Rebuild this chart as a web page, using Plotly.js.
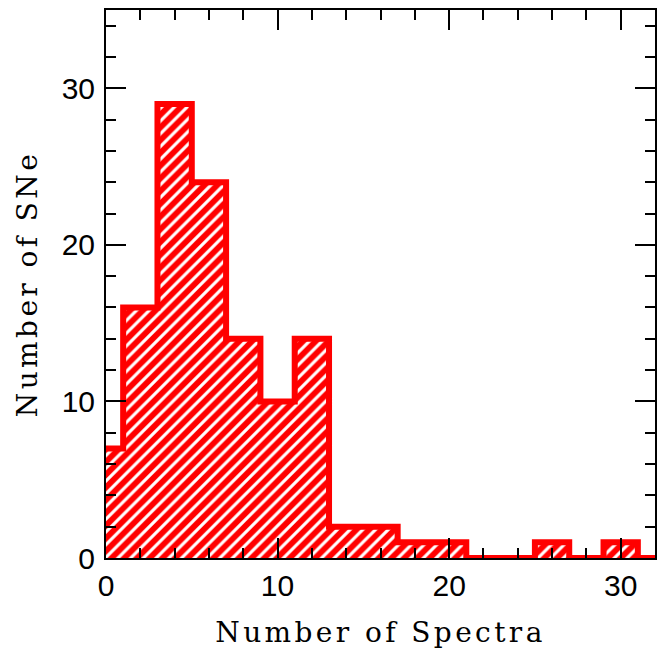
<!DOCTYPE html>
<html>
<head>
<meta charset="utf-8">
<script src="https://cdn.plot.ly/plotly-3.0.1.min.js"></script>
<style>
html,body{margin:0;padding:0;background:#fff;}
#chart{width:663px;height:651px;}
.g-xtitle text, .g-ytitle text{letter-spacing:3.4px;}
</style>
</head>
<body>
<div id="chart"></div>
<script>
// Histogram: bin centers (width 2) and counts
var binCenters = [0, 2, 4, 6, 8, 10, 12, 14, 16, 18, 20, 22, 24, 26, 28, 30, 32];
var counts     = [7, 16, 29, 24, 14, 10, 14, 2, 2, 1, 1, 0, 0, 1, 0, 1, 0];
var binWidth = 2;
var xTickVals = [0, 10, 20, 30];
var yTickVals = [0, 10, 20, 30];

// Step outline built from bin edges
var edgesX = binCenters.map(function(c){ return c - binWidth/2; });
edgesX.push(binCenters[binCenters.length-1] + binWidth/2);
var edgesY = counts.slice();
edgesY.push(counts[counts.length-1]);

var titleFont = "DejaVu Serif";
var tickFont = "Liberation Sans";
var bars = {
  type: 'bar', x: binCenters, y: counts, width: binWidth,
  marker: {color: '#ff0000', line: {width: 0},
    pattern: {shape: '/', fgcolor: '#ffffff', bgcolor: '#ff0000', fgopacity: 1, size: 9, solidity: 0.35, fillmode: 'overlay'}},
  hoverinfo: 'skip'
};
var outline = {
  type: 'scatter', mode: 'lines', x: edgesX, y: edgesY,
  line: {shape: 'hv', color: '#ff0000', width: 6}, hoverinfo: 'skip'
};

var axisCommon = {
  showgrid: false, zeroline: false, showline: true, linecolor: '#000', linewidth: 2,
  mirror: 'ticks', ticks: 'inside', ticklen: 20, tickwidth: 2, tickcolor: '#000',
  tickfont: {family: tickFont, size: 30, color: '#000'},
  minor: {ticks: 'inside', ticklen: 10, tickwidth: 2, tickcolor: '#000', dtick: 2, showgrid: false}
};
var layout = {
  width: 663, height: 651,
  margin: {l: 106, r: 8, t: 10, b: 93},
  paper_bgcolor: '#fff', plot_bgcolor: '#fff',
  showlegend: false, bargap: 0,
  xaxis: Object.assign({}, axisCommon, {range: [0, 32], tickmode: 'array', tickvals: xTickVals,
    title: {text: 'Number of Spectra', font: {family: titleFont, size: 28, color: '#000'}, standoff: 21}}),
  yaxis: Object.assign({}, axisCommon, {range: [0, 35], tickmode: 'array', tickvals: yTickVals, ticklabelstandoff: 3,
    title: {text: 'Number of SNe', font: {family: titleFont, size: 28, color: '#000'}, standoff: 16}})
};
Plotly.newPlot('chart', [bars, outline], layout, {displayModeBar: false, staticPlot: true});
</script>
</body>
</html>
